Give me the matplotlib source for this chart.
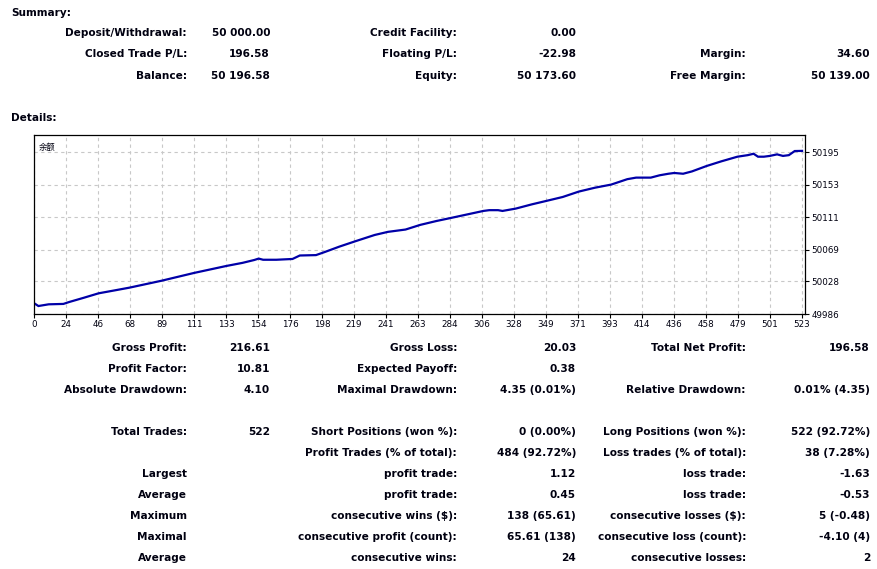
import numpy as np
import matplotlib
matplotlib.use("Agg")
import matplotlib.pyplot as plt

W, H = 877, 569

# ---------------------------------------------------------------------
# data
# ---------------------------------------------------------------------
summary_rows = [
    [("Deposit/Withdrawal:", "50 000.00"), ("Credit Facility:", "0.00"), ("", "")],
    [("Closed Trade P/L:", "196.58"), ("Floating P/L:", "-22.98"), ("Margin:", "34.60")],
    [("Balance:", "50 196.58"), ("Equity:", "50 173.60"), ("Free Margin:", "50 139.00")],
]

detail_rows = [
    [("Gross Profit:", "216.61"), ("Gross Loss:", "20.03"), ("Total Net Profit:", "196.58")],
    [("Profit Factor:", "10.81"), ("Expected Payoff:", "0.38"), ("", "")],
    [("Absolute Drawdown:", "4.10"), ("Maximal Drawdown:", "4.35 (0.01%)"), ("Relative Drawdown:", "0.01% (4.35)")],
    None,
    [("Total Trades:", "522"), ("Short Positions (won %):", "0 (0.00%)"), ("Long Positions (won %):", "522 (92.72%)")],
    [("", ""), ("Profit Trades (% of total):", "484 (92.72%)"), ("Loss trades (% of total):", "38 (7.28%)")],
    [("Largest", ""), ("profit trade:", "1.12"), ("loss trade:", "-1.63")],
    [("Average", ""), ("profit trade:", "0.45"), ("loss trade:", "-0.53")],
    [("Maximum", ""), ("consecutive wins ($):", "138 (65.61)"), ("consecutive losses ($):", "5 (-0.48)")],
    [("Maximal", ""), ("consecutive profit (count):", "65.61 (138)"), ("consecutive loss (count):", "-4.10 (4)")],
    [("Average", ""), ("consecutive wins:", "24"), ("consecutive losses:", "2")],
]

trade_no = [0, 3, 10, 20, 24, 34, 44, 55, 65, 76, 87, 98, 109, 120, 131, 142,
            150, 153, 156, 165, 176, 181, 192, 198, 208, 219, 232, 241, 253,
            263, 274, 284, 295, 306, 310, 316, 319, 322, 328, 339, 349, 360,
            371, 382, 393, 404, 410, 420, 426, 432, 436, 442, 448, 458, 468,
            479, 486, 490, 493, 497, 501, 506, 510, 514, 518, 523]
balance = [50000, 49996.3, 49998.5, 49999, 50001.5, 50007, 50012.7, 50016.5,
           50020, 50024.5, 50029, 50034, 50039, 50043.5, 50048, 50052,
           50055.7, 50057.5, 50056, 50056, 50057, 50061.5, 50062, 50066,
           50073, 50080, 50088, 50092, 50095, 50101, 50106, 50110, 50114.5,
           50119, 50120, 50120, 50119, 50120, 50122, 50127.5, 50132, 50137,
           50144, 50149, 50153, 50160, 50162, 50162, 50165, 50167, 50168,
           50167, 50170, 50177, 50183, 50189, 50191, 50192.8, 50189, 50189,
           50190, 50192, 50190, 50191, 50196.3, 50196.5]

x_labels = ["0", "24", "46", "68", "89", "111", "133", "154", "176", "198",
            "219", "241", "263", "284", "306", "328", "349", "371", "393",
            "414", "436", "458", "479", "501", "523"]
y_ticks = [49986, 50028, 50069, 50111, 50153, 50195]

# ---------------------------------------------------------------------
# figure + text blocks (pixel coordinates from the top-left corner)
# ---------------------------------------------------------------------
fig = plt.figure(figsize=(W / 100, H / 100), dpi=100)
fig.patch.set_facecolor("white")

TXT = dict(fontsize=7.6, fontweight="bold", color="#000010", family="DejaVu Sans")


def put(x, y, s, ha="right", **kw):
    opts = dict(TXT)
    opts.update(kw)
    fig.text(x / W, 1 - y / H, s, ha=ha, va="center", **opts)


label_right = [187, 457, 746]
value_right = [270, 576, 870]

put(11, 13, "Summary:", ha="left")
for r, row in enumerate(summary_rows):
    y = 33 + r * 21.3
    for c, (lab, val) in enumerate(row):
        if lab:
            put(label_right[c], y, lab)
        if val:
            put(value_right[c], y, val)

put(11, 118, "Details:", ha="left")
for r, row in enumerate(detail_rows):
    if row is None:
        continue
    y = 348 + r * 21
    for c, (lab, val) in enumerate(row):
        if lab:
            put(label_right[c], y, lab)
        if val:
            put(value_right[c], y, val)

# ---------------------------------------------------------------------
# balance chart
# ---------------------------------------------------------------------
ax_l, ax_r, ax_t, ax_b = 34, 805, 135, 314
ax = fig.add_axes([ax_l / W, 1 - ax_b / H, (ax_r - ax_l) / W, (ax_b - ax_t) / H])
ax.plot(trade_no, balance, color="#0000A8", lw=1.6, solid_joinstyle="miter")

x_pos = np.linspace(0, 523, len(x_labels))
ax.set_xlim(0, 525)
ax.set_ylim(49986, 50217)
ax.set_xticks(x_pos)
ax.set_xticklabels(x_labels)
ax.set_yticks(y_ticks)
ax.set_yticklabels([str(v) for v in y_ticks])
ax.yaxis.tick_right()
ax.tick_params(axis="both", direction="out", length=3, width=0.8, color="black",
               labelsize=6.3, pad=1.5, labelcolor="#000010")
ax.grid(True, color="#C8C8C8", linestyle=(0, (3, 3)), linewidth=0.8)
for s in ax.spines.values():
    s.set_linewidth(0.9)
    s.set_color("black")

ax.text(0.006, 0.955, "余额", transform=ax.transAxes, ha="left", va="top",
        fontsize=6, family=["Noto Sans CJK SC", "DejaVu Sans"], color="#000010")

fig.savefig("out.png", dpi=100)
